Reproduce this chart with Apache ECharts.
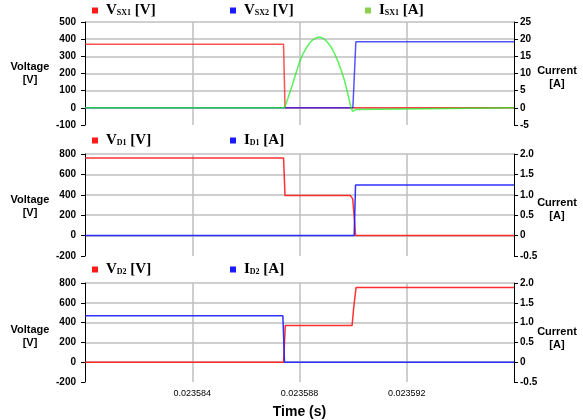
<!DOCTYPE html>
<html>
<head>
<meta charset="utf-8">
<script src="https://cdn.jsdelivr.net/npm/echarts@6/dist/echarts.min.js"></script>
<style>
  html, body { margin: 0; padding: 0; background: #fff; }
  #chart { width: 583px; height: 420px; }
</style>
</head>
<body>
<div id="chart"></div>
<script>
// Time axis (seconds): ticks every 4 µs, only inner ones labelled
const timeTicks = [0.023580, 0.023584, 0.023588, 0.023592, 0.023596];
const timeTickLabels = ['', '0.023584', '0.023588', '0.023592', ''];

// Axis tick labels per panel
const voltTicksSX = ['-100', '0', '100', '200', '300', '400', '500'];
const currTicksSX = ['-5', '0', '5', '10', '15', '20', '25'];
const voltTicksD = ['-200', '0', '200', '400', '600', '800'];
const currTicksD = ['-0.5', '0', '0.5', '1.0', '1.5', '2.0'];

// Panel 1: switch SX1 / SX2 voltages and SX1 current
const tVsx1 = [0.023580, 0.023587405, 0.023587460, 0.023596];
const vVsx1 = [370, 370, 0, 0];
const tVsx2 = [0.023580, 0.023589991, 0.023590102, 0.023596];
const vVsx2 = [0, 0, 385, 385];
const tIsx1 = [0.023580, 0.023587442, 0.023587565, 0.023587751, 0.023587877, 0.023588000,
               0.023588123, 0.023588249, 0.023588372, 0.023588495, 0.023588621, 0.023588707,
               0.023588807, 0.023588930, 0.023589053, 0.023589179, 0.023589302, 0.023589425,
               0.023589551, 0.023589674, 0.023589797, 0.023589924, 0.023589983, 0.023590046,
               0.023590110, 0.023590147, 0.023596];
const iIsx1 = [0, 0, 2.7, 7.1, 10.3, 13.3,
               15.6, 17.4, 18.8, 19.8, 20.4, 20.6,
               20.5, 20.0, 19.0, 17.7, 15.9, 13.7,
               11.0, 8.1, 4.2, 0, -1.0, -1.3,
               -0.5, 0, 0];

// Panel 2: diode D1
const tVd1 = [0.023580, 0.023587405, 0.023587460, 0.023589900, 0.023589950, 0.023589985,
              0.023590050, 0.023590090, 0.023596];
const vVd1 = [760, 760, 392, 392, 385, 360, 150, 0, 0];
const tId1 = [0.023580, 0.023590040, 0.023590090, 0.023596];
const iId1 = [0, 0, 1.24, 1.24];

// Panel 3: diode D2
const tVd2 = [0.023580, 0.023587405, 0.023587470, 0.023589961, 0.023590021, 0.023590110, 0.023596];
const vVd2 = [0, 0, 370, 370, 550, 755, 755];
const tId2 = [0.023580, 0.023587380, 0.023587440, 0.023596];
const iId2 = [1.17, 1.17, 0, 0];

// Legend entries: [main, subscript, unit]
const legendParts = {
  'VSX1 [V]': ['V', 'SX1', '[V]'],
  'VSX2 [V]': ['V', 'SX2', '[V]'],
  'ISX1 [A]': ['I', 'SX1', '[A]'],
  'VD1 [V]': ['V', 'D1', '[V]'],
  'ID1 [A]': ['I', 'D1', '[A]'],
  'VD2 [V]': ['V', 'D2', '[V]'],
  'ID2 [A]': ['I', 'D2', '[A]']
};

const zip = (xs, ys) => xs.map((x, i) => [x, ys[i]]);
const num = s => parseFloat(s);
const step = arr => Number((num(arr[1]) - num(arr[0])).toFixed(9));

const grids = [
  { left: 85, right: 69, top: 22, height: 103 },
  { left: 85, right: 69, top: 154, height: 102 },
  { left: 85, right: 69, top: 283, height: 103 }
];

const gridColor = '#bfbfbf';
const labelFont = { fontFamily: 'Liberation Sans, Arial, sans-serif', fontSize: 10, fontWeight: 'bold', color: '#000' };

function xAxisFor(i, showLabels) {
  return {
    type: 'value', gridIndex: i,
    min: timeTicks[0], max: timeTicks[timeTicks.length - 1],
    interval: Number((timeTicks[1] - timeTicks[0]).toFixed(9)),
    axisLine: { show: false }, axisTick: { show: false },
    splitLine: { show: true, showMinLine: false, showMaxLine: false, lineStyle: { color: gridColor, width: 1.5 } },
    axisLabel: {
      show: showLabels, margin: 7, showMinLabel: false, showMaxLabel: false,
      fontFamily: 'Liberation Sans, Arial, sans-serif', fontSize: 9, color: '#000',
      formatter: (v, idx) => timeTickLabels[idx] || ''
    },
    name: showLabels ? 'Time (s)' : '',
    nameLocation: 'middle', nameGap: 23,
    nameTextStyle: { fontFamily: 'Liberation Sans, Arial, sans-serif', fontSize: 14, fontWeight: 'bold', color: '#000' }
  };
}

function yAxisFor(i, ticks, position, margin) {
  return {
    type: 'value', gridIndex: i, position: position,
    min: num(ticks[0]), max: num(ticks[ticks.length - 1]), interval: step(ticks),
    axisLine: { show: true, onZero: false, lineStyle: { color: '#000', width: 1 } },
    axisTick: { show: true, length: 4, lineStyle: { color: '#000' } },
    splitLine: { show: position === 'left', showMinLine: false, lineStyle: { color: gridColor, width: 1.5 } },
    axisLabel: Object.assign({ margin: margin, formatter: (v, idx) => ticks[idx] }, labelFont)
  };
}

function lineSeries(name, xi, yi, data, color, legendColor, opacity) {
  return {
    name: name, type: 'line', xAxisIndex: xi, yAxisIndex: yi,
    data: data, showSymbol: false, symbol: 'none', animation: false,
    itemStyle: { color: legendColor || color },
    lineStyle: { color: color, width: 1.5, opacity: opacity },
    emphasis: { disabled: true }, silent: true
  };
}

const RED = '#ff1a1a', BLUE = '#1a1aff', GREEN = '#22ee22', GREEN_KEY = '#8ccf4c';

function legendAt(name, left, centerY) {
  return {
    data: [{ name: name, icon: 'rect' }],
    left: left, top: centerY - 9, padding: 0,
    itemWidth: 6, itemHeight: 6, selectedMode: false,
    formatter: n => {
      const p = legendParts[n];
      return '{g|}{m|' + p[0] + '}{s|' + p[1] + '}{m| ' + p[2] + '}';
    },
    textStyle: {
      color: '#000',
      rich: {
        g: { width: 3 },
        m: { fontFamily: 'Liberation Serif, Times New Roman, serif', fontSize: 15, fontWeight: 'bold', lineHeight: 18, color: '#000' },
        s: { fontFamily: 'Liberation Serif, Times New Roman, serif', fontSize: 8, fontWeight: 'bold', lineHeight: 18, color: '#000', padding: [5, 0, 0, 0] }
      }
    }
  };
}

const axisTitleFont = 'bold 11px Liberation Sans, Arial, sans-serif';
function axisTitle(text, x, y) {
  return {
    type: 'text', x: x, y: y, silent: true,
    style: { text: text, font: axisTitleFont, fill: '#000', align: 'center', verticalAlign: 'middle', lineHeight: 13 }
  };
}

const option = {
  backgroundColor: '#fff',
  animation: false,
  grid: grids,
  xAxis: [xAxisFor(0, false), xAxisFor(1, false), xAxisFor(2, true)],
  yAxis: [
    yAxisFor(0, voltTicksSX, 'left', 9), yAxisFor(0, currTicksSX, 'right', 6),
    yAxisFor(1, voltTicksD, 'left', 9), yAxisFor(1, currTicksD, 'right', 6),
    yAxisFor(2, voltTicksD, 'left', 9), yAxisFor(2, currTicksD, 'right', 6)
  ],
  legend: [
    legendAt('VSX1 [V]', 92, 12), legendAt('VSX2 [V]', 230, 12), legendAt('ISX1 [A]', 365, 12),
    legendAt('VD1 [V]', 92, 142), legendAt('ID1 [A]', 230, 142),
    legendAt('VD2 [V]', 92, 271), legendAt('ID2 [A]', 230, 271)
  ],
  graphic: [
    axisTitle('Voltage\n[V]', 30, 73), axisTitle('Current\n[A]', 557, 77),
    axisTitle('Voltage\n[V]', 30, 206), axisTitle('Current\n[A]', 557, 209),
    axisTitle('Voltage\n[V]', 30, 336), axisTitle('Current\n[A]', 557, 338)
  ],
  series: [
    lineSeries('VSX1 [V]', 0, 0, zip(tVsx1, vVsx1), RED, null, 0.75),
    lineSeries('VSX2 [V]', 0, 0, zip(tVsx2, vVsx2), BLUE, null, 0.75),
    lineSeries('ISX1 [A]', 0, 1, zip(tIsx1, iIsx1), GREEN, GREEN_KEY, 0.75),
    lineSeries('VD1 [V]', 1, 2, zip(tVd1, vVd1), RED, null, 0.9),
    lineSeries('ID1 [A]', 1, 3, zip(tId1, iId1), BLUE, null, 0.9),
    lineSeries('VD2 [V]', 2, 4, zip(tVd2, vVd2), RED, null, 0.9),
    lineSeries('ID2 [A]', 2, 5, zip(tId2, iId2), BLUE, null, 0.9)
  ]
};

const chart = echarts.init(document.getElementById('chart'), null, { renderer: 'canvas' });
chart.setOption(option);
</script>
</body>
</html>
